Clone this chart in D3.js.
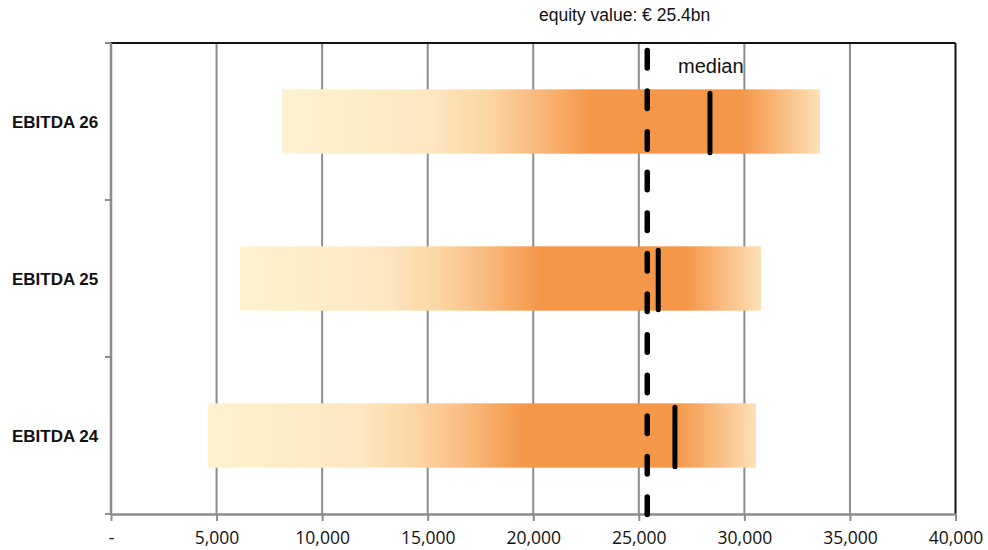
<!DOCTYPE html>
<html>
<head>
<meta charset="utf-8">
<script src="https://cdn.jsdelivr.net/npm/d3@7"></script>
<style>
  html, body { margin: 0; padding: 0; background: #ffffff; }
  svg { display: block; }
</style>
</head>
<body>
<svg id="chart" width="988" height="550"></svg>
<script>
// Valuation ranges (EUR m) per EBITDA year
const categories = ["EBITDA 26", "EBITDA 25", "EBITDA 24"];
const rangeLow   = [8100, 6110, 4580];
const rangeHigh  = [33580, 30790, 30550];
const medians    = [28370, 25920, 26710];
const equityValue = 25400;
const equityLabel = "equity value: € 25.4bn";
const medianLabel = "median";
const tickValues = [0, 5000, 10000, 15000, 20000, 25000, 30000, 35000, 40000];
const tickLabels = ["-", "5,000", "10,000", "15,000", "20,000", "25,000", "30,000", "35,000", "40,000"];

const rows = categories.map((c, i) => ({ cat: c, lo: rangeLow[i], hi: rangeHigh[i], med: medians[i] }));

const svg = d3.select("#chart");
const plot = { left: 111, right: 955.5, top: 43, bottom: 514 };

const x = d3.scaleLinear().domain([0, 40000]).range([plot.left, plot.right]);
const y = d3.scaleBand().domain(categories).range([plot.top, plot.bottom])
  .paddingInner(0.59).paddingOuter(0.295);

// Gradient shared by all range bars: pale cream rising to orange, fading at the top end
const defs = svg.append("defs");
const grad = defs.append("linearGradient").attr("id", "rangeFill")
  .attr("x1", "0%").attr("x2", "100%").attr("y1", "0%").attr("y2", "0%");
[
  [0.00, "#fef2d0"],
  [0.08, "#feefcb"],
  [0.28, "#fde6c0"],
  [0.38, "#fcd6a4"],
  [0.47, "#f9bb7f"],
  [0.575, "#f59749"],
  [0.855, "#f59749"],
  [0.93, "#f9bc82"],
  [1.00, "#fee1b6"]
].forEach(([o, c]) => grad.append("stop").attr("offset", o).attr("stop-color", c));

// Vertical gridlines
svg.append("g")
  .selectAll("line")
  .data(tickValues.slice(1, -1))
  .join("line")
  .attr("x1", d => x(d)).attr("x2", d => x(d))
  .attr("y1", plot.top).attr("y2", plot.bottom)
  .attr("stroke", "#8c8c8c").attr("stroke-width", 2);

// Range bars
svg.append("g")
  .selectAll("rect")
  .data(rows)
  .join("rect")
  .attr("x", d => x(d.lo))
  .attr("width", d => x(d.hi) - x(d.lo))
  .attr("y", d => y(d.cat))
  .attr("height", y.bandwidth())
  .attr("fill", "url(#rangeFill)");

// Plot frame: black top and right edges
svg.append("line")
  .attr("x1", plot.left - 6).attr("x2", plot.right)
  .attr("y1", plot.top).attr("y2", plot.top)
  .attr("stroke", "#111").attr("stroke-width", 2);
svg.append("line")
  .attr("x1", plot.right).attr("x2", plot.right)
  .attr("y1", plot.top).attr("y2", plot.bottom)
  .attr("stroke", "#111").attr("stroke-width", 2);

// X axis
const xAxis = d3.axisBottom(x)
  .tickValues(tickValues)
  .tickFormat((d, i) => tickLabels[i])
  .tickSize(7)
  .tickSizeOuter(0);
const gx = svg.append("g").attr("transform", `translate(0,${plot.bottom})`).call(xAxis);
gx.select(".domain").attr("stroke", "#8c8c8c").attr("stroke-width", 2.5);
gx.selectAll(".tick line").attr("stroke", "#8c8c8c").attr("stroke-width", 2);
gx.selectAll(".tick text")
  .attr("y", 18)
  .attr("fill", "#111")
  .style("font-family", "'Open Sans', sans-serif")
  .style("font-size", "17.5px");

// Y axis with category boundaries as ticks
const boundaries = d3.range(categories.length + 1).map(i => plot.top + i * (plot.bottom - plot.top) / categories.length);
svg.append("line")
  .attr("x1", plot.left).attr("x2", plot.left)
  .attr("y1", plot.top).attr("y2", plot.bottom)
  .attr("stroke", "#8c8c8c").attr("stroke-width", 2.5);
svg.append("g")
  .selectAll("line")
  .data(boundaries)
  .join("line")
  .attr("x1", plot.left - 6).attr("x2", plot.left)
  .attr("y1", d => d).attr("y2", d => d)
  .attr("stroke", "#8c8c8c").attr("stroke-width", 2);

// Category labels
svg.append("g")
  .selectAll("text")
  .data(categories)
  .join("text")
  .attr("x", 12)
  .attr("y", d => y(d) + y.bandwidth() / 2)
  .attr("dy", "0.36em")
  .attr("fill", "#111")
  .style("font-family", "'Liberation Sans', Arial, sans-serif")
  .style("font-weight", "bold")
  .style("font-size", "17px")
  .text(d => d);

// Median markers
svg.append("g")
  .selectAll("line")
  .data(rows)
  .join("line")
  .attr("x1", d => x(d.med)).attr("x2", d => x(d.med))
  .attr("y1", d => y(d.cat) + 4)
  .attr("y2", d => y(d.cat) + y.bandwidth() - 1)
  .attr("stroke", "#000").attr("stroke-width", 5)
  .attr("stroke-linecap", "round");

// Equity value reference line
svg.append("line")
  .attr("x1", x(equityValue)).attr("x2", x(equityValue))
  .attr("y1", 50.5).attr("y2", 515)
  .attr("stroke", "#000").attr("stroke-width", 5.5)
  .attr("stroke-linecap", "round")
  .attr("stroke-dasharray", "17.5 23.1");

// Annotations
svg.append("text")
  .attr("x", 539).attr("y", 21)
  .attr("fill", "#111")
  .style("font-family", "'Liberation Sans', Arial, sans-serif")
  .style("font-size", "17.5px")
  .text(equityLabel);

svg.append("text")
  .attr("x", 678).attr("y", 73)
  .attr("fill", "#111")
  .style("font-family", "'Liberation Sans', Arial, sans-serif")
  .style("font-size", "20px")
  .text(medianLabel);
</script>
</body>
</html>
